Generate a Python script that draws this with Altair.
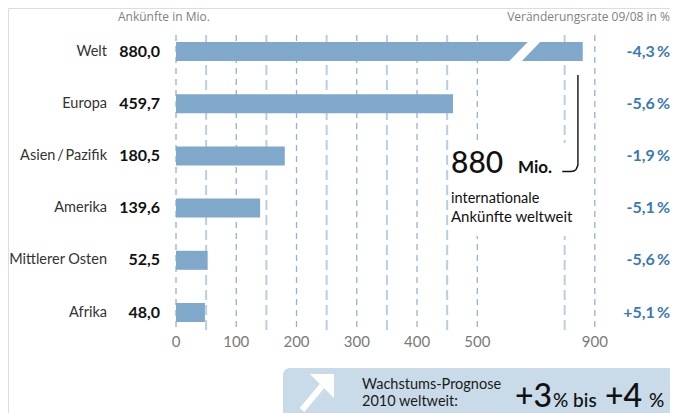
import altair as alt
import pandas as pd

# ---- data ----
regions = ["Welt", "Europa", "Asien\u2009/\u2009Pazifik", "Amerika", "Mittlerer Osten", "Afrika"]
arrivals = [880.0, 459.7, 180.5, 139.6, 52.5, 48.0]
arrival_labels = ["880,0", "459,7", "180,5", "139,6", "52,5", "48,0"]
change_labels = ["-4,3\u2009%", "-5,6\u2009%", "-1,9\u2009%", "-5,1\u2009%", "-5,6\u2009%", "+5,1\u2009%"]
tick_values = [0, 100, 200, 300, 400, 500, 900]
major_grid = [0, 100, 200, 300, 400, 500, 900]
minor_grid = [50, 150, 250, 350, 450, 850]

BREAK_SHIFT = 205  # values above the axis break are shifted left


def disp(v):
    return v if v <= 500 else v - BREAK_SHIFT


FONT = "Lato"
BAR = "#80a8ca"
BLUE = "#3b79b0"

rows = pd.DataFrame({
    "row": list(range(len(regions))),
    "region": regions,
    "value": arrivals,
    "disp": [disp(v) for v in arrivals],
    "vlabel": arrival_labels,
    "change": change_labels,
})
ticks = pd.DataFrame({"t": tick_values, "disp": [disp(v) for v in tick_values], "lab": [str(v) for v in tick_values]})
gmaj = pd.DataFrame({"disp": [disp(v) for v in major_grid]})
gmin = pd.DataFrame({"disp": [disp(v) for v in minor_grid]})

xs = alt.Scale(domain=[0, 695], range=[168, 586.8], padding=0, zero=False, nice=False)
ys = alt.Scale(domain=[0, 5], range=[43.5, 304.5], padding=0, zero=False, nice=False)
X = lambda f: alt.X(f, type="quantitative", scale=xs, axis=None)
Y = lambda f: alt.Y(f, type="quantitative", scale=ys, axis=None)

one = pd.DataFrame({"a": [0]})

grid_major = alt.Chart(gmaj).mark_rule(color="#93b3d0", strokeWidth=1.3, strokeDash=[6, 5]).encode(
    x=X("disp"), y=alt.value(27), y2=alt.value(322))
grid_minor = alt.Chart(gmin).mark_rule(color="#b8cfe3", strokeWidth=2, strokeDash=[10, 5]).encode(
    x=X("disp"), y=alt.value(27), y2=alt.value(322))

bars = alt.Chart(rows).mark_bar(size=19, orient="horizontal", color=BAR).encode(
    x=X("zero"), x2="disp", y=Y("row")).transform_calculate(zero="0")

# axis break on the Welt bar
brk = pd.DataFrame({"x1": [558.6], "x2": [599.0], "y1": [0.24], "y2": [-0.24]})
break_mark = alt.Chart(brk).mark_rule(color="white", strokeWidth=9).encode(
    x=X("x1"), x2="x2", y=Y("y1"), y2="y2")

region_text = alt.Chart(rows).mark_text(align="right", baseline="middle", font=FONT, fontSize=14.5, color="#333333").encode(
    x=alt.value(99), y=Y("row"), text="region")
value_text = alt.Chart(rows).mark_text(align="right", baseline="middle", font=FONT, fontSize=16, fontWeight="bold", color="#111111").encode(
    x=alt.value(152), y=Y("row"), text="vlabel")
change_text = alt.Chart(rows).mark_text(align="right", baseline="middle", font=FONT, fontSize=16, fontWeight="bold", color=BLUE).encode(
    x=alt.value(662), y=Y("row"), text="change")

tick_text = alt.Chart(ticks).mark_text(align="center", baseline="middle", font=FONT, fontSize=15, color="#7a7a7a").encode(
    x=X("disp"), y=alt.value(334), text="lab")

head_left = alt.Chart(one).mark_text(align="left", baseline="middle", font="Open Sans", fontSize=12, color="#7f7f7f").encode(
    x=alt.value(110), y=alt.value(9), text=alt.value("Ankünfte in Mio."))
head_right = alt.Chart(one).mark_text(align="right", baseline="middle", font="Open Sans", fontSize=12, color="#7f7f7f").encode(
    x=alt.value(662), y=alt.value(9), text=alt.value("Veränderungsrate 09/08 in %"))

# annotation
ann_bg = alt.Chart(one).mark_rect(color="white").encode(
    x=alt.value(442), x2=alt.value(567), y=alt.value(135), y2=alt.value(228))
callout = pd.DataFrame({
    "i": [0, 1, 2, 3, 4, 5, 6],
    "cx": [667, 667, 666.2, 663.8, 660.4, 655.4, 641],
    "cy": [0.45, 2.166, 2.201, 2.261, 2.29, 2.3, 2.3],
})
callout_line = alt.Chart(callout).mark_line(color="#111111", strokeWidth=1.4).encode(
    x=X("cx"), y=Y("cy"), order="i:Q")
ann_880 = alt.Chart(one).mark_text(align="left", baseline="alphabetic", font=FONT, fontSize=30, fontWeight=500, color="#111111").encode(
    x=alt.value(443), y=alt.value(165), text=alt.value("880"))
ann_mio = alt.Chart(one).mark_text(align="left", baseline="alphabetic", font=FONT, fontSize=17, fontWeight="bold", color="#111111").encode(
    x=alt.value(510), y=alt.value(165), text=alt.value("Mio."))
ann_l1 = alt.Chart(one).mark_text(align="left", baseline="alphabetic", font=FONT, fontSize=14.5, color="#111111").encode(
    x=alt.value(443), y=alt.value(195), text=alt.value("internationale"))
ann_l2 = alt.Chart(one).mark_text(align="left", baseline="alphabetic", font=FONT, fontSize=15, color="#111111").encode(
    x=alt.value(443), y=alt.value(214), text=alt.value("Ankünfte weltweit"))

# forecast box
box = alt.Chart(one).mark_rect(color="#c9dae8", cornerRadius=7).encode(
    x=alt.value(275), x2=alt.value(668), y=alt.value(360), y2=alt.value(420))
shaft = alt.Chart(one).mark_rule(color="white", strokeWidth=6).encode(
    x=alt.value(294), x2=alt.value(314), y=alt.value(402), y2=alt.value(378))
head = alt.Chart(one).mark_point(shape="M 1 -1 L -0.85 -1 L 1 0.85 Z", size=680, filled=True, opacity=1, color="white").encode(
    x=alt.value(313), y=alt.value(379))
bt1 = alt.Chart(one).mark_text(align="left", baseline="alphabetic", font=FONT, fontSize=14.5, color="#1a1a1a").encode(
    x=alt.value(354), y=alt.value(381), text=alt.value("Wachstums-Prognose"))
bt2 = alt.Chart(one).mark_text(align="left", baseline="alphabetic", font=FONT, fontSize=14.5, color="#1a1a1a").encode(
    x=alt.value(354), y=alt.value(398), text=alt.value("2010 weltweit:"))
big3 = alt.Chart(one).mark_text(align="left", baseline="alphabetic", font=FONT, fontSize=32, fontWeight=500, color="#111111").encode(
    x=alt.value(507), y=alt.value(399), text=alt.value("+3"))
pbis = alt.Chart(one).mark_text(align="left", baseline="alphabetic", font=FONT, fontSize=19, fontWeight=500, color="#111111").encode(
    x=alt.value(545), y=alt.value(399), text=alt.value("% bis"))
big4 = alt.Chart(one).mark_text(align="left", baseline="alphabetic", font=FONT, fontSize=32, fontWeight=500, color="#111111").encode(
    x=alt.value(597), y=alt.value(399), text=alt.value("+4"))
pct = alt.Chart(one).mark_text(align="left", baseline="alphabetic", font=FONT, fontSize=19, fontWeight=500, color="#111111").encode(
    x=alt.value(641), y=alt.value(399), text=alt.value("%"))

chart = alt.layer(
    grid_minor, grid_major, bars, break_mark,
    ann_bg, callout_line, ann_880, ann_mio, ann_l1, ann_l2,
    region_text, value_text, change_text, tick_text, head_left, head_right,
    box, shaft, head, bt1, bt2, big3, pbis, big4, pct,
).properties(
    width=662, height=405, autosize=alt.AutoSizeParams(type="none"), padding=0,
).configure_view(stroke=None).configure(background="white")

chart.save("out.html", embed_options={"renderer": "svg", "actions": False})
